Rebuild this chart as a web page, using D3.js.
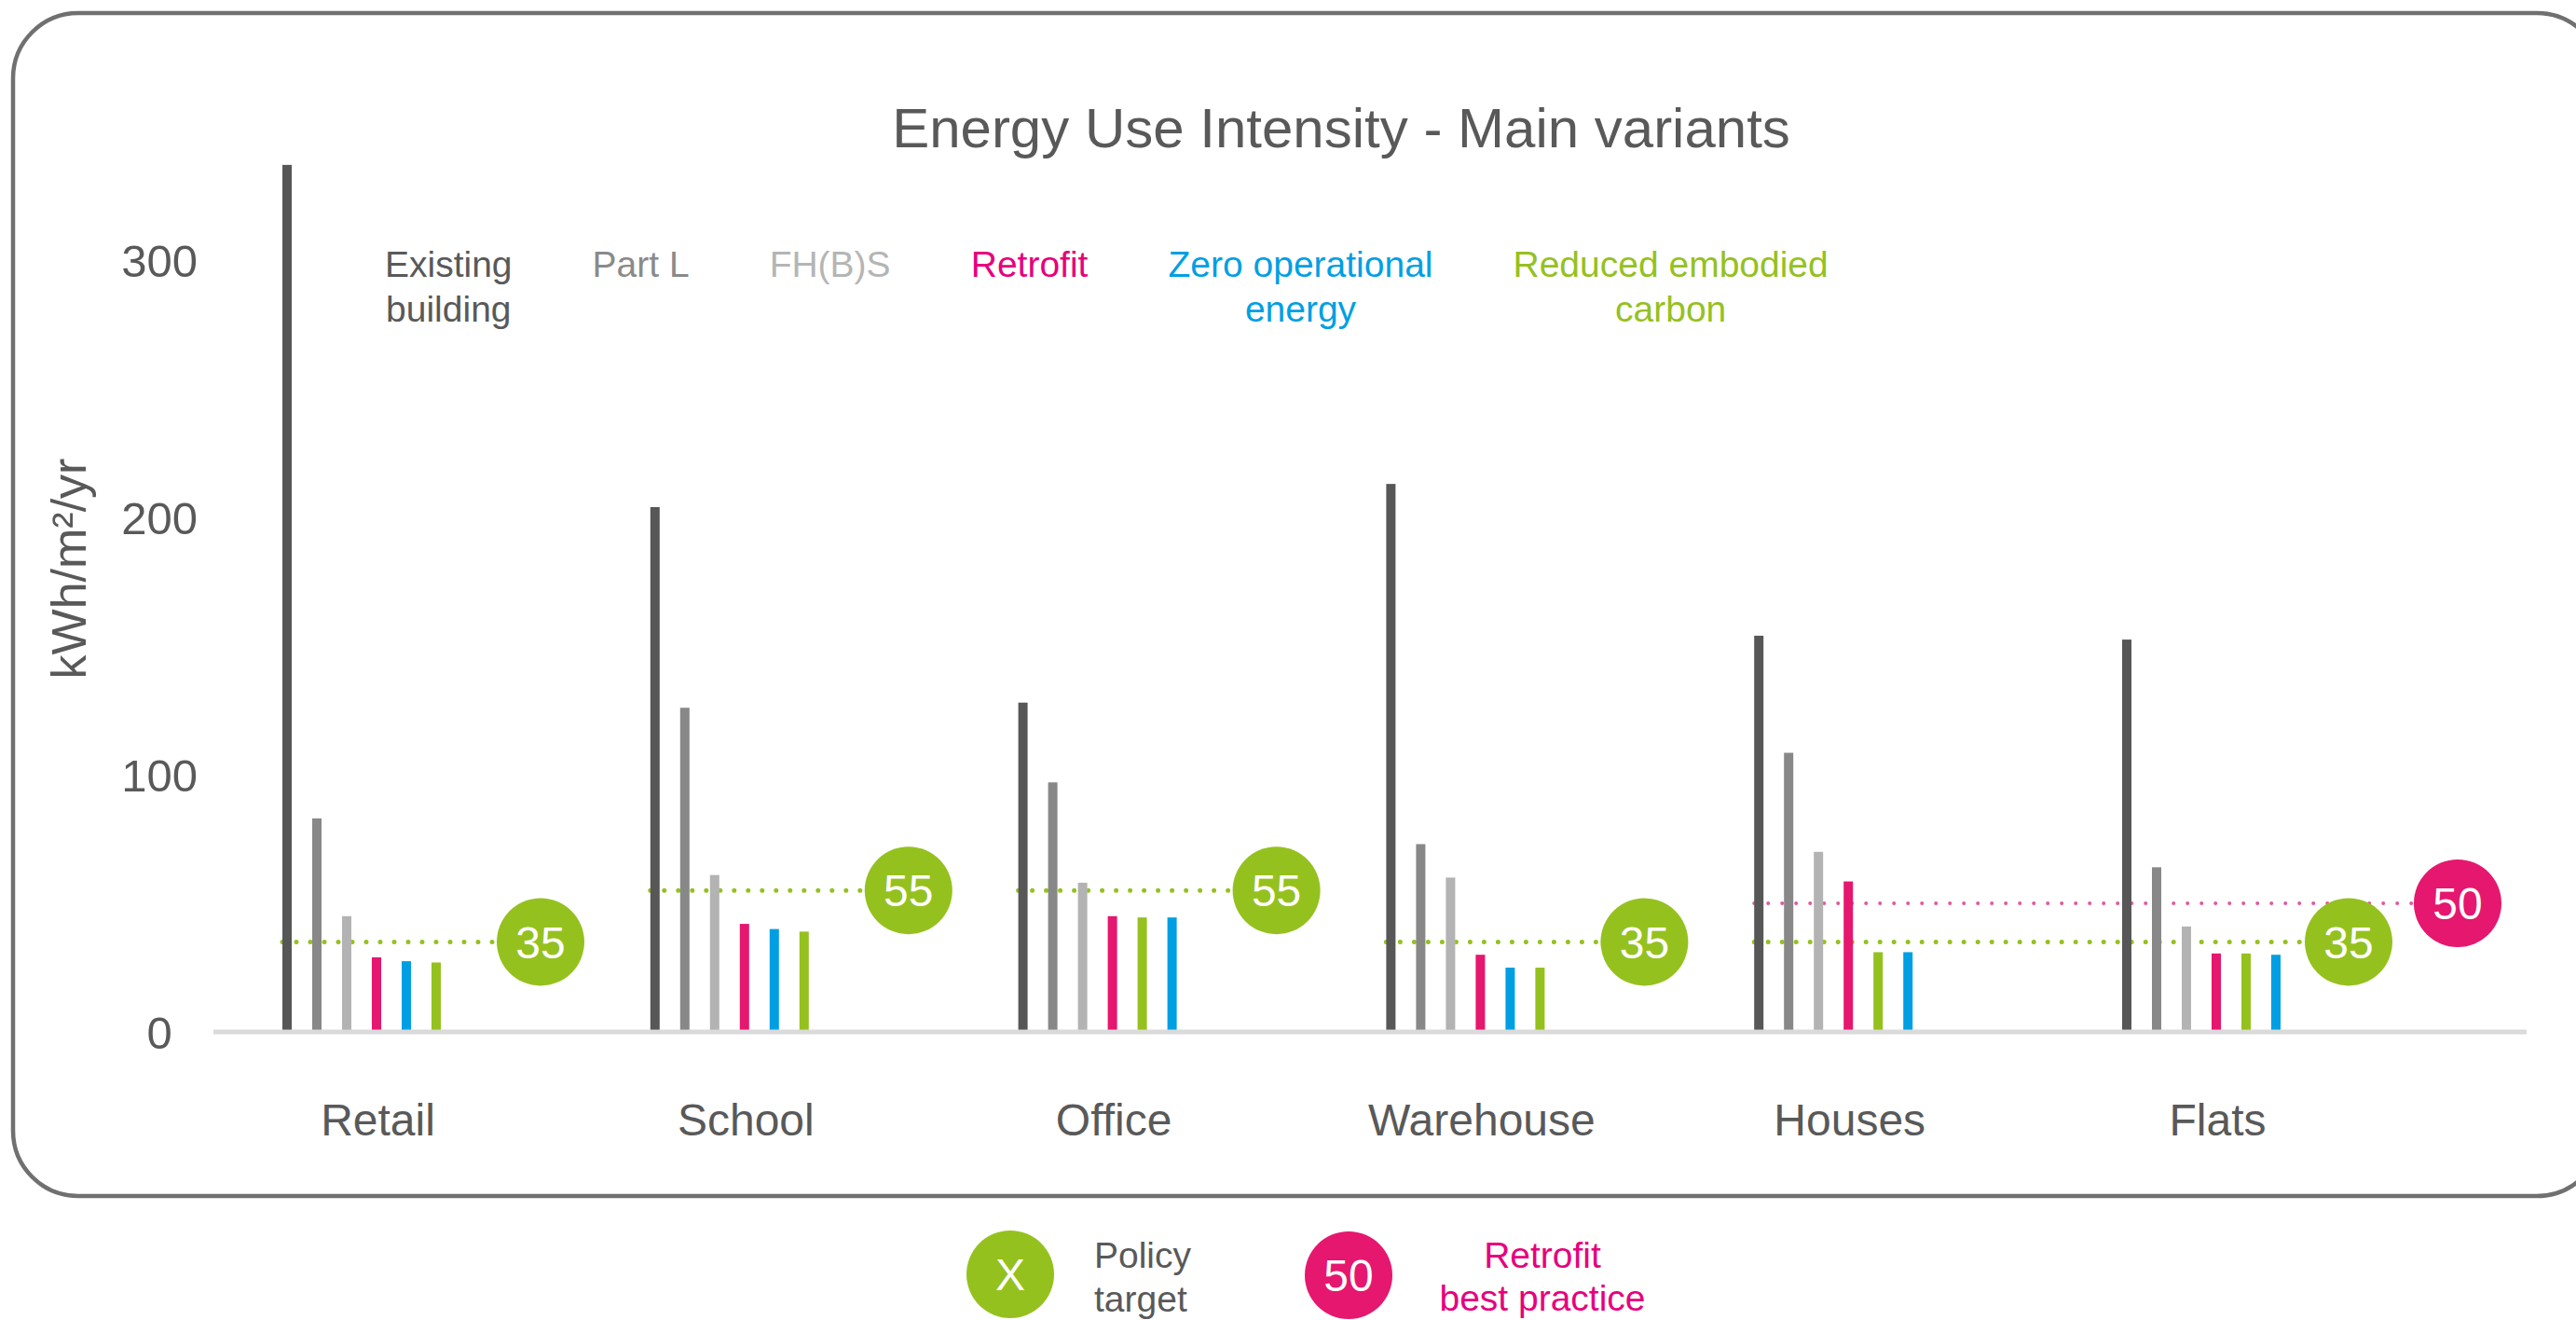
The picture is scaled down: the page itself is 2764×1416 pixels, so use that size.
<!DOCTYPE html>
<html>
<head>
<meta charset="utf-8">
<script src="https://cdn.jsdelivr.net/npm/d3@7"></script>
<style>
  html, body { margin: 0; padding: 0; background: #fff; }
  svg { display: block; font-family: "Liberation Sans", Arial, sans-serif; }
</style>
</head>
<body>
<svg id="chart" width="2764" height="1416"></svg>
<script>
// ---- data -----------------------------------------------------------
const categories = ["Retail", "School", "Office", "Warehouse", "Houses", "Flats"];

const seriesKeys = ["existing", "partL", "fhbs", "retrofit", "zero", "embodied"];
const seriesLabels = [
  ["Existing", "building"],
  ["Part L"],
  ["FH(B)S"],
  ["Retrofit"],
  ["Zero operational", "energy"],
  ["Reduced embodied", "carbon"]
];

// kWh/m²/yr per building type
const existing        = [337, 204, 128, 213, 154, 152.5];
const partL           = [83, 126, 97, 73, 108.5, 64];
const fhbs            = [45, 61, 58, 60, 70, 41];
const retrofit        = [29, 42, 45, 30, 58.5, 30.5];
const zeroOperational = [27.5, 40, 44.5, 25, 31, 30];
const reducedEmbodied = [27, 39, 44.5, 25, 31, 30.5];

// sequence of series inside each group (Office, Houses and Flats put embodied before zero)
const barOrder = [
  ["existing", "partL", "fhbs", "retrofit", "zero", "embodied"],
  ["existing", "partL", "fhbs", "retrofit", "zero", "embodied"],
  ["existing", "partL", "fhbs", "retrofit", "embodied", "zero"],
  ["existing", "partL", "fhbs", "retrofit", "zero", "embodied"],
  ["existing", "partL", "fhbs", "retrofit", "embodied", "zero"],
  ["existing", "partL", "fhbs", "retrofit", "embodied", "zero"]
];

// policy targets (green bubbles) and retrofit best practice (pink bubble)
const policyFrom   = ["Retail", "School", "Office", "Warehouse", "Houses"];
const policyTo     = ["Retail", "School", "Office", "Warehouse", "Flats"];
const policyValues = [35, 55, 55, 35, 35];

const bestPracticeFrom   = ["Houses"];
const bestPracticeTo     = ["Flats"];
const bestPracticeValues = [50];

const yTicks = [0, 100, 200, 300];

// ---- styling --------------------------------------------------------
const barColor = {
  existing: "#575757", partL: "#888888", fhbs: "#b3b3b3",
  retrofit: "#e5176e", zero: "#009fe3", embodied: "#95c11f"
};
const labelColor = {
  existing: "#595959", partL: "#8a8a8a", fhbs: "#b5b5b5",
  retrofit: "#e6007e", zero: "#009fe3", embodied: "#95c11f"
};
const GREEN = "#95c11f", PINK = "#e5176e", TEXT = "#595959";

const seriesData = { existing, partL, fhbs, retrofit, zero: zeroOperational, embodied: reducedEmbodied };

const svg = d3.select("#chart");
svg.append("rect").attr("width", 2764).attr("height", 1416).attr("fill", "#fff");

// rounded frame around the chart
svg.append("rect")
  .attr("x", 14).attr("y", 14)
  .attr("width", 2778).attr("height", 1269)
  .attr("rx", 70).attr("ry", 70)
  .attr("fill", "none").attr("stroke", "#707070").attr("stroke-width", 4.5);

// ---- scales ---------------------------------------------------------
const y = d3.scaleLinear().domain([0, 300]).range([1107, 279]);
const group = d3.scalePoint().domain(categories).range([308, 2282]);   // first bar of each group
const slot = d3.scalePoint().domain(d3.range(6)).range([0, 160]);      // bar offset inside a group
const BAR_W = 10;
const BUBBLE_R = 47;

// ---- title ----------------------------------------------------------
svg.append("text")
  .attr("x", 1439).attr("y", 158)
  .attr("text-anchor", "middle")
  .attr("font-size", 60).attr("fill", TEXT)
  .text("Energy Use Intensity - Main variants");

// ---- series legend across the top (flowed left to right) ------------
{
  let cursor = 413;
  const gap = 86;
  seriesKeys.forEach((k, i) => {
    const g = svg.append("g");
    const t = g.append("text")
      .attr("text-anchor", "middle")
      .attr("font-size", 39)
      .attr("fill", labelColor[k]);
    seriesLabels[i].forEach((line, j) => {
      t.append("tspan").attr("x", 0).attr("y", 297 + j * 48).text(line);
    });
    const w = t.node().getBBox().width;
    g.attr("transform", `translate(${cursor + w / 2},0)`);
    cursor += w + gap;
  });
}

// ---- y axis ---------------------------------------------------------
const yAxis = svg.append("g")
  .attr("transform", "translate(171,0)")
  .call(d3.axisLeft(y).tickValues(yTicks).tickSize(0).tickPadding(0));
yAxis.select(".domain").remove();
yAxis.selectAll("text")
  .attr("text-anchor", "middle")
  .attr("font-size", 49)
  .attr("font-family", "Liberation Sans, Arial, sans-serif")
  .attr("fill", TEXT)
  .attr("dy", "0.35em");

svg.append("text")
  .attr("transform", "translate(92,610) rotate(-90)")
  .attr("text-anchor", "middle")
  .attr("font-size", 52).attr("fill", TEXT)
  .text("kWh/m²/yr");

// ---- target lines (drawn under the bubbles) ------------------------
const policy = policyValues.map((v, i) => ({ from: policyFrom[i], to: policyTo[i], value: v }));
const bestPractice = bestPracticeValues.map((v, i) => ({ from: bestPracticeFrom[i], to: bestPracticeTo[i], value: v }));

const hasBestPractice = c => bestPractice.some(b => b.to === c);
const policyBubbleX = d => group(d.to) + (hasBestPractice(d.to) ? 238 : 272);
const bestBubbleX = d => group(d.to) + 355;

svg.append("g").selectAll("line").data(bestPractice).join("line")
  .attr("x1", d => group(d.from) - BAR_W / 2)
  .attr("x2", d => bestBubbleX(d) - BUBBLE_R)
  .attr("y1", d => y(d.value)).attr("y2", d => y(d.value))
  .attr("stroke", "#e8559a").attr("stroke-width", 4)
  .attr("stroke-linecap", "round")
  .attr("stroke-dasharray", "0 15");

svg.append("g").selectAll("line").data(policy).join("line")
  .attr("x1", d => group(d.from) - BAR_W / 2)
  .attr("x2", d => policyBubbleX(d) - BUBBLE_R)
  .attr("y1", d => y(d.value)).attr("y2", d => y(d.value))
  .attr("stroke", GREEN).attr("stroke-width", 5)
  .attr("stroke-linecap", "round")
  .attr("stroke-dasharray", "0 15");

// ---- bars -----------------------------------------------------------
const bars = [];
categories.forEach((c, ci) => {
  barOrder[ci].forEach((k, si) => {
    bars.push({ category: c, key: k, pos: si, value: seriesData[k][ci] });
  });
});

svg.append("g").selectAll("rect").data(bars).join("rect")
  .attr("x", d => group(d.category) + slot(d.pos) - BAR_W / 2)
  .attr("width", BAR_W)
  .attr("y", d => y(d.value))
  .attr("height", d => y(0) - y(d.value))
  .attr("fill", d => barColor[d.key]);

// ---- baseline and category labels ----------------------------------
svg.append("line")
  .attr("x1", 229).attr("x2", 2711)
  .attr("y1", y(0)).attr("y2", y(0))
  .attr("stroke", "#dadada").attr("stroke-width", 5);

const xAxis = svg.append("g")
  .attr("transform", "translate(97,1218)")
  .call(d3.axisBottom(group).tickSize(0).tickPadding(0));
xAxis.select(".domain").remove();
xAxis.selectAll("text")
  .attr("dy", 0)
  .attr("font-size", 48)
  .attr("font-family", "Liberation Sans, Arial, sans-serif")
  .attr("fill", TEXT);

// ---- bubbles --------------------------------------------------------
function bubble(sel, fill) {
  sel.append("circle").attr("r", BUBBLE_R).attr("fill", fill);
  sel.append("text")
    .attr("text-anchor", "middle").attr("dy", "0.36em")
    .attr("font-size", 48).attr("fill", "#fff")
    .text(d => d.label);
}

svg.append("g").selectAll("g")
  .data(policy.map(d => ({ ...d, label: d.value })))
  .join("g")
  .attr("transform", d => `translate(${policyBubbleX(d)},${y(d.value)})`)
  .call(bubble, GREEN);

svg.append("g").selectAll("g")
  .data(bestPractice.map(d => ({ ...d, label: d.value })))
  .join("g")
  .attr("transform", d => `translate(${bestBubbleX(d)},${y(d.value)})`)
  .call(bubble, PINK);

// ---- key below the frame -------------------------------------------
const key = svg.append("g");
key.append("g").datum({ label: "X" })
  .attr("transform", "translate(1084,1367)").call(bubble, GREEN);
key.append("g").datum({ label: "50" })
  .attr("transform", "translate(1447,1368)").call(bubble, PINK);

const policyKey = key.append("text").attr("font-size", 39).attr("fill", TEXT);
policyKey.append("tspan").attr("x", 1174).attr("y", 1360).text("Policy");
policyKey.append("tspan").attr("x", 1174).attr("y", 1407).text("target");

const bestKey = key.append("text").attr("font-size", 39).attr("fill", "#e6007e").attr("text-anchor", "middle");
bestKey.append("tspan").attr("x", 1655).attr("y", 1360).text("Retrofit");
bestKey.append("tspan").attr("x", 1655).attr("y", 1406).text("best practice");
</script>
</body>
</html>
